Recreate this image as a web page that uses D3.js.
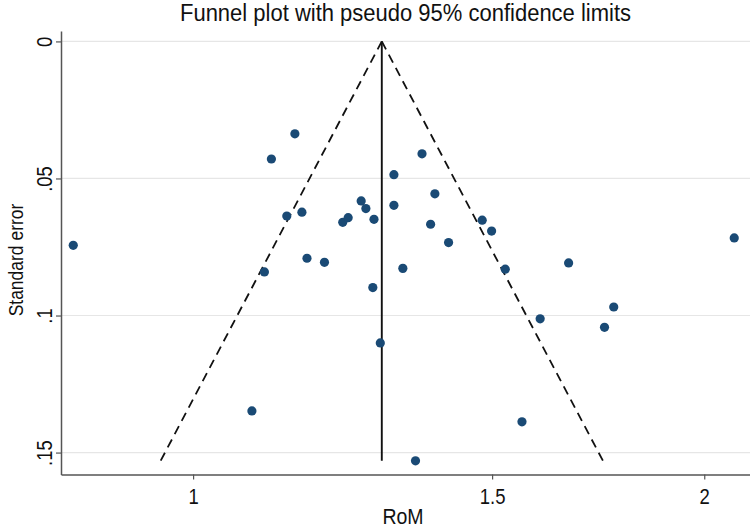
<!DOCTYPE html>
<html>
<head>
<meta charset="utf-8">
<script src="https://cdn.jsdelivr.net/npm/d3@7"></script>
<style>
  html, body { margin: 0; padding: 0; background: #fff; }
  svg { display: block; }
  text { font-family: "Liberation Sans", Arial, sans-serif; fill: #111; }
</style>
</head>
<body>
<svg id="chart" width="750" height="530"></svg>
<script>
// ---- data ----
const rom = [0.850, 1.148, 1.112, 1.1355, 1.159, 1.256, 1.264, 1.225, 1.234, 1.278,
             1.167, 1.195, 1.1015, 1.276, 1.364, 1.313, 1.388, 1.313, 1.480, 1.499,
             1.380, 1.414, 1.329, 1.527, 1.664, 1.769, 1.747, 1.601, 2.083, 1.083,
             1.289, 1.562, 1.352];
const se  = [0.0744, 0.0337, 0.0429, 0.0637, 0.0623, 0.0582, 0.0610, 0.0660, 0.0643, 0.0649,
             0.0791, 0.0806, 0.0841, 0.0898, 0.0410, 0.0486, 0.0556, 0.0598, 0.0652, 0.0692,
             0.0667, 0.0734, 0.0828, 0.0831, 0.0808, 0.0969, 0.1043, 0.1012, 0.0717, 0.1348,
             0.1100, 0.1388, 0.1530];
const pooledRoM = 1.2916;
const xTicks = [1, 1.5, 2];
const xTickLabels = ["1", "1.5", "2"];
const yTicks = [0, 0.05, 0.1, 0.15];
const yTickLabels = ["0", ".05", ".1", ".15"];
const xDomain = [0.836, 2.128];
const yDomain = [-0.0038, 0.158];
const titleText = "Funnel plot with pseudo 95% confidence limits";
const xTitle = "RoM";
const yTitle = "Standard error";

// ---- layout ----
const mLeft = 61, mRight = 750, mTop = 31, mBottom = 474.5;
const svg = d3.select("#chart");
const x = d3.scaleLog().domain(xDomain).range([mLeft, mRight]);
const y = d3.scaleLinear().domain(yDomain).range([mTop, mBottom]);
const stretch = 1.15;

function label(g, tx, ty, rot, size, str, sy) {
  return g.append("text")
    .attr("transform", `translate(${tx},${ty}) rotate(${rot}) scale(1,${sy})`)
    .attr("text-anchor", "middle").attr("font-size", size).text(str);
}

// gridlines
svg.append("g").selectAll("line").data(yTicks).join("line")
  .attr("x1", mLeft).attr("x2", mRight)
  .attr("y1", d => y(d)).attr("y2", d => y(d))
  .attr("stroke", "#e6e6e6").attr("stroke-width", 1.2);

// funnel
const maxSE = d3.max(se);
const z = 1.96;
const lnP = Math.log(pooledRoM);
const leftLine = [[pooledRoM, 0], [Math.exp(lnP - z * maxSE), maxSE]];
const rightLine = [[pooledRoM, 0], [Math.exp(lnP + z * maxSE), maxSE]];
const line = d3.line().x(d => x(d[0])).y(d => y(d[1]));
[leftLine, rightLine].forEach(l => {
  svg.append("path").attr("d", line(l)).attr("fill", "none")
    .attr("stroke", "#111").attr("stroke-width", 1.8)
    .attr("stroke-dasharray", "9,6");
});
svg.append("path").attr("d", line([[pooledRoM, 0], [pooledRoM, maxSE]]))
  .attr("fill", "none").attr("stroke", "#111").attr("stroke-width", 1.9);

// points
svg.append("g").selectAll("circle").data(rom.map((r, i) => [r, se[i]])).join("circle")
  .attr("cx", d => x(d[0])).attr("cy", d => y(d[1])).attr("r", 4.6)
  .attr("fill", "#1a4a75");

// axes (lines and ticks via d3 axes; labels drawn with stretched text)
const xAxis = d3.axisBottom(x).tickValues(xTicks).tickFormat("").tickSize(5).tickSizeOuter(0);
const gx = svg.append("g").attr("transform", `translate(0,${mBottom})`).call(xAxis);
gx.select(".domain").attr("stroke", "#555").attr("stroke-width", 1.5);
gx.selectAll(".tick line").attr("stroke", "#555").attr("stroke-width", 1.2);
gx.selectAll(".tick").each(function(d, i) {
  label(d3.select(this), 0, 29.5, 0, 18.5, xTickLabels[i], stretch);
});

const yAxis = d3.axisLeft(y).tickValues(yTicks).tickFormat("").tickSize(5).tickSizeOuter(0);
const gy = svg.append("g").attr("transform", `translate(${mLeft},0)`).call(yAxis);
gy.select(".domain").attr("stroke", "#555").attr("stroke-width", 1.5);
gy.selectAll(".tick line").attr("stroke", "#555").attr("stroke-width", 1.2);
gy.selectAll(".tick").each(function(d, i) {
  label(d3.select(this), -9, 0, -90, 18.5, yTickLabels[i], stretch);
});

// titles
label(svg, (mLeft + mRight) / 2, 21, 0, 22, titleText, 1.05);
label(svg, 403, 524, 0, 19.5, xTitle, stretch);
label(svg, 23, 260, -90, 17.5, yTitle, stretch);
</script>
</body>
</html>
